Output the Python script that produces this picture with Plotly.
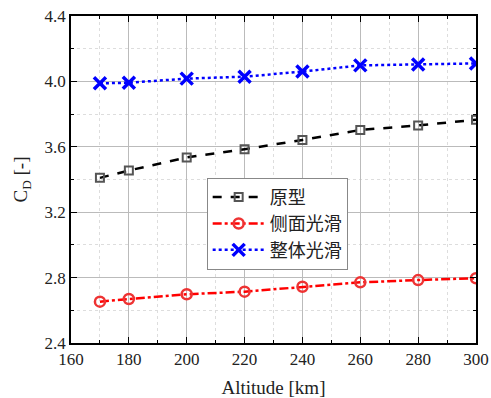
import plotly.graph_objects as go

altitude = [170, 180, 200, 220, 240, 260, 280, 300]
proto = [3.41, 3.455, 3.535, 3.585, 3.642, 3.703, 3.731, 3.765]
side_smooth = [2.653, 2.669, 2.698, 2.714, 2.744, 2.771, 2.785, 2.796]
whole_smooth = [3.988, 3.992, 4.017, 4.029, 4.060, 4.098, 4.104, 4.110]
names = ["原型", "侧面光滑", "整体光滑"]

font_main = "Times New Roman, Liberation Serif, DejaVu Serif, serif"

fig = go.Figure()
fig.add_trace(go.Scatter(
    x=altitude, y=proto, name=names[0], mode="lines+markers",
    line=dict(color="black", width=2.5, dash="dash"),
    marker=dict(symbol="square-open", size=8, color="#555555", line=dict(width=2, color="#555555")),
))
fig.add_trace(go.Scatter(
    x=altitude, y=side_smooth, name=names[1], mode="lines+markers",
    line=dict(color="red", width=2.5, dash="dashdot"),
    marker=dict(symbol="circle-open", size=10, color="#ee3333", line=dict(width=2.5, color="#ee3333")),
))
fig.add_trace(go.Scatter(
    x=altitude, y=whole_smooth, name=names[2], mode="lines+markers",
    line=dict(color="blue", width=2.5, dash="dot"),
    marker=dict(symbol="x-thin", size=12, color="blue", line=dict(width=3.5, color="blue")),
))

axis_common = dict(
    showline=True, linecolor="black", linewidth=1.5, mirror="ticks",
    ticks="inside", ticklen=6, tickcolor="black", tickwidth=1,
    showgrid=True, gridcolor="#bbbbbb", gridwidth=1,
    zeroline=False, automargin=False,
    tickfont=dict(family=font_main, size=17, color="#222"),
)

fig.update_xaxes(
    range=[160, 300], dtick=20, tick0=160,
    minor=dict(ticks="inside", ticklen=3, tickcolor="black", dtick=10, showgrid=True,
               gridcolor="#dddddd", griddash="dot"),
    title=dict(text="Altitude [km]", font=dict(family=font_main, size=19, color="#222"), standoff=14),
    ticklabelstandoff=0,
    **axis_common,
)
fig.update_yaxes(
    range=[2.4, 4.4], dtick=0.4, tick0=2.4, tickformat=".1f",
    minor=dict(ticks="inside", ticklen=3, tickcolor="black", dtick=0.2, showgrid=True,
               gridcolor="#dddddd", griddash="dot"),
    title=dict(text="C<sub>D</sub> [-]", font=dict(family=font_main, size=19, color="#222"), standoff=12),
    **axis_common,
)

fig.update_layout(
    width=491, height=398,
    margin=dict(l=71, r=15, t=16, b=55),
    plot_bgcolor="white", paper_bgcolor="white",
    font=dict(family=font_main),
    showlegend=True,
    legend=dict(
        x=0.335, y=0.505, xanchor="left", yanchor="top",
        bgcolor="white", bordercolor="#888888", borderwidth=1,
        font=dict(family="Noto Sans CJK SC", size=18, color="#222"),
        tracegroupgap=0, itemwidth=52,
    ),
)

fig.write_html("out.html")
